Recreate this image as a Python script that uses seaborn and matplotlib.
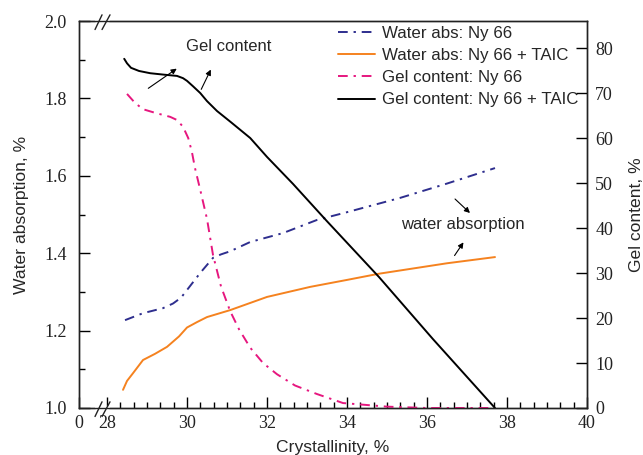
#
# Water absorption & gel content vs crystallinity
#

import numpy as np
import pandas as pd
import matplotlib
matplotlib.use('Agg')
import matplotlib.pyplot as plt
import seaborn as sns
from matplotlib.ticker import FixedLocator, MultipleLocator

#%%
# Data

# Water absorption, Ny 66
x_wa_ny = [28.45, 28.9, 29.4, 29.65, 29.85, 30.0, 30.33, 30.65, 30.85, 31.08, 31.58, 32.4, 33.25, 34.0, 35.33, 36.5, 37.7]
wa_ny = [1.227, 1.245, 1.258, 1.27, 1.285, 1.305, 1.349, 1.388, 1.397, 1.405, 1.429, 1.452, 1.486, 1.506, 1.543, 1.58, 1.62]

# Water absorption, Ny 66 + TAIC
x_wa_taic = [28.4, 28.5, 28.65, 28.9, 29.2, 29.5, 29.8, 30.0, 30.25, 30.5, 31.08, 32.0, 33.08, 34.0, 34.8, 36.5, 37.7]
wa_taic = [1.047, 1.07, 1.09, 1.124, 1.14, 1.158, 1.185, 1.208, 1.222, 1.235, 1.253, 1.287, 1.313, 1.331, 1.347, 1.374, 1.39]

# Gel content, Ny 66
x_gel_ny = [28.5, 28.7, 28.9, 29.2, 29.58, 29.75, 29.9, 30.03, 30.12, 30.2, 30.33, 30.5, 30.65, 30.85,
            31.08, 31.3, 31.58, 31.9, 32.25, 32.7, 33.25, 33.9, 35.0, 36.0, 37.7]
gel_ny = [69.8, 67.8, 66.4, 65.6, 64.7, 64.0, 62.5, 60.0, 57.0, 53.3, 48.5, 42.0, 34.0, 27.0,
          21.5, 17.5, 13.4, 10.0, 7.5, 5.0, 3.1, 1.1, 0.3, 0.0, 0.0]

# Gel content, Ny 66 + TAIC
x_gel_taic = [28.43, 28.5, 28.6, 28.8, 29.08, 29.4, 29.75, 29.9, 30.0, 30.15, 30.33, 30.5, 30.75,
              31.1, 31.58, 32.0, 32.65, 33.5, 34.8, 36.15, 37.7]
gel_taic = [77.6, 76.6, 75.6, 74.9, 74.4, 74.1, 73.8, 73.3, 72.7, 71.5, 70.0, 68.2, 66.0,
            63.5, 60.0, 55.8, 49.8, 41.5, 29.1, 15.3, 0.0]

labels = ['Water abs: Ny 66', 'Water abs: Ny 66 + TAIC',
          'Gel content: Ny 66', 'Gel content: Ny 66 + TAIC']

x_ticks = [27.3, 28, 30, 32, 34, 36, 38, 40]
x_ticklabels = ['0', '28', '30', '32', '34', '36', '38', '40']

#%%

sns.set_style('ticks')
plt.rcParams['font.family'] = ['Liberation Sans', 'DejaVu Sans']

fig = plt.figure(figsize=(6.43, 4.55), dpi=100)
ax = fig.add_axes([0.1229, 0.1033, 0.7900, 0.8505])
ax2 = ax.twinx()

dashdot = (0, (5, 3, 1.2, 3))

sns.lineplot(x=x_wa_ny, y=wa_ny, ax=ax, color='#2e2e8e', lw=1.4,
             linestyle=dashdot, label=labels[0])
sns.lineplot(x=x_wa_taic, y=wa_taic, ax=ax, color='#f5821f', lw=1.4,
             label=labels[1])
sns.lineplot(x=x_gel_ny, y=gel_ny, ax=ax2, color='#e6177f', lw=1.4,
             linestyle=dashdot, label=labels[2])
sns.lineplot(x=x_gel_taic, y=gel_taic, ax=ax2, color='black', lw=1.4,
             label=labels[3])

# Axes limits / ticks
ax.set_xlim(27.3, 40)
ax.set_ylim(1.0, 2.0)
ax2.set_ylim(0, 86)

ax.set_xticks(x_ticks)
ax.set_xticklabels(x_ticklabels)
ax.xaxis.set_minor_locator(FixedLocator(np.arange(28, 40.01, 1/3)))
ax.yaxis.set_major_locator(MultipleLocator(0.2))
ax.yaxis.set_minor_locator(MultipleLocator(0.1))
ax2.yaxis.set_major_locator(MultipleLocator(10))

for a in (ax, ax2):
    a.tick_params(which='major', direction='in', length=8, width=1, color='black',
                  labelsize=13, labelfontfamily='Liberation Serif', labelcolor='#222222')
    a.tick_params(which='minor', direction='in', length=4, width=1, color='black')
    for s in a.spines.values():
        s.set_color('#222222')
        s.set_linewidth(1)
ax.tick_params(axis='x', pad=5)
ax.tick_params(axis='y', pad=9)
ax2.tick_params(axis='y', pad=6)

ax.set_xlabel('Crystallinity, %', fontsize=12.6, labelpad=6)
ax.set_ylabel('Water absorption, %', fontsize=12.6, labelpad=11)
ax2.set_ylabel('Gel content, %', fontsize=12.6, labelpad=11)

# Legend (both axes)
ax.get_legend().remove()
h1, l1 = ax.get_legend_handles_labels()
h2, l2 = ax2.get_legend_handles_labels()
ax2.legend(h1 + h2, l1 + l2, loc='upper right', bbox_to_anchor=(0.993, 1.0),
           frameon=False, fontsize=12.2, handlelength=2.2, handletextpad=0.4,
           labelspacing=0.42, borderaxespad=0.1, borderpad=0.2)

# Annotations
ax.text(31.03, 1.933, 'Gel content', fontsize=12, ha='center', va='center')
ax.text(36.9, 1.475, 'water absorption', fontsize=12, ha='center', va='center')
arrow = dict(arrowstyle='-|>', color='black', lw=0.8, mutation_scale=8)
ax.annotate('', xy=(29.8, 1.881), xytext=(28.975, 1.822), arrowprops=arrow)
ax.annotate('', xy=(30.625, 1.881), xytext=(30.325, 1.817), arrowprops=arrow)
ax.annotate('', xy=(37.125, 1.499), xytext=(36.65, 1.545), arrowprops=arrow)
ax.annotate('', xy=(36.95, 1.434), xytext=(36.65, 1.388), arrowprops=arrow)

# Axis break marks "//" on top and bottom spine
for yb in (0, 1):
    ax.plot([0.035, 0.057], [yb, yb], transform=ax.transAxes, color='white',
            lw=3, clip_on=False, zorder=5)
    ax.plot([0.0315, 0.0453], [yb - 0.022, yb + 0.016], transform=ax.transAxes,
            color='#222222', lw=1, clip_on=False, zorder=6)
    ax.plot([0.0453, 0.061], [yb - 0.022, yb + 0.016], transform=ax.transAxes,
            color='#222222', lw=1, clip_on=False, zorder=6)

fig.savefig('out.png', dpi=100)
